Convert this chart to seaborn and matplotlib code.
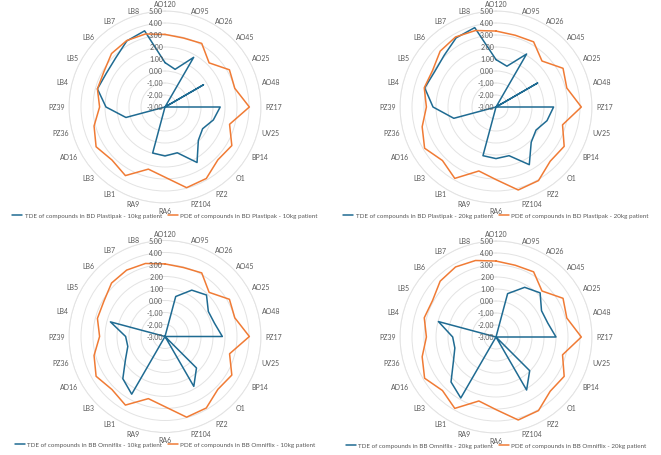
import numpy as np
import pandas as pd
import seaborn as sns
import matplotlib.pyplot as plt
from matplotlib.transforms import offset_copy

# compounds, clockwise from the top
compounds = ['AO120', 'AO95', 'AO26', 'AO45', 'AO25', 'AO48', 'PZ17', 'UV25',
             'BP14', 'O1', 'PZ2', 'PZ104', 'RA6', 'RA9', 'LB1', 'LB3', 'AD16',
             'PZ36', 'PZ39', 'LB4', 'LB5', 'LB6', 'LB7', 'LB8']

# PDE (same for both devices at one weight)
pde_10kg = [3.05, 2.95, 3.12, 2.2, 3.2, 3.02, 4.03, 2.57, 3.43, 3.23, 3.88, 3.96,
            2.85, 2.36, 3.6, 3.25, 3.63, 3.12, 2.45, 2.83, 2.88, 3.3, 3.39, 3.3]
pde_20kg = [3.33, 3.19, 3.27, 2.42, 3.45, 3.11, 4.11, 2.74, 3.56, 3.39, 4.08, 4.16,
            3.05, 2.52, 3.87, 3.31, 3.87, 3.37, 2.8, 3.19, 3.1, 3.58, 3.74, 3.6]

# TDE
tde_plastipak_10kg = [0.7, 0.25, 1.78, -3, 0.7, -3, 1.6, 1.17, 0.62, 0.93, 2.34, 0.95,
                      1.08, 0.97, -3, -3, -3, 0.37, 1.92, 2.83, 2.64, 2.8, 3.36, 3.57]
tde_plastipak_20kg = [0.95, 0.52, 2.1, -3, 1.0, -3, 1.8, 1.4, 0.85, 1.15, 2.55, 1.2,
                      1.3, 1.2, -3, -3, -3, 0.64, 2.25, 3.15, 2.9, 3.1, 3.65, 3.85]
tde_omniflex_10kg = [-3, 0.45, 1.46, 1.89, 1.17, 1.27, 1.78, -3, -3, 0.71, 1.8, -3,
                     -3, -3, 2.55, 1.97, 0.8, 0.21, 0.28, 1.71, -3, -3, -3, -3]
tde_omniflex_20kg = [-3, 0.74, 1.78, 2.2, 1.38, 1.47, 2.0, -3, -3, 0.97, 2.1, -3,
                     -3, -3, 2.87, 2.3, 1.1, 0.55, 0.61, 1.97, -3, -3, -3, -3]

r_ticks = [-3, -2, -1, 0, 1, 2, 3, 4, 5]

blue = '#1f6b92'
orange = '#f07b35'
grey_text = '#595959'
grid_col = '#e3e3e3'

sns.set_theme(style='white')
plt.rcParams['font.family'] = ['Lato', 'DejaVu Sans']

fig = plt.figure(figsize=(6.61, 4.56), dpi=100)

W, H = 661, 456
R = 96
panels = [
    ('BD Plastipak - 10kg patient', tde_plastipak_10kg, pde_10kg, (165, 108)),
    ('BD Plastipak - 20kg patient', tde_plastipak_20kg, pde_20kg, (496, 108)),
    ('BB Omniflix - 10kg patient', tde_omniflex_10kg, pde_10kg, (165, 337.5)),
    ('BB Omniflix - 20kg patient', tde_omniflex_20kg, pde_20kg, (496, 338)),
]

angles = np.arange(len(compounds)) * 2 * np.pi / len(compounds)
theta = np.append(angles, 2 * np.pi)

for name, tde, pde, (cx, cy) in panels:
    rect = [(cx - R) / W, (H - cy - R) / H, 2 * R / W, 2 * R / H]
    ax = fig.add_axes(rect, projection='polar')
    ax.set_theta_zero_location('N')
    ax.set_theta_direction(-1)

    df = pd.DataFrame({
        'theta': np.concatenate([theta, theta]),
        'value': np.concatenate([tde + tde[:1], pde + pde[:1]]),
        'series': ['TDE of compounds in ' + name] * len(theta)
                  + ['PDE of compounds in ' + name] * len(theta),
    })
    sns.lineplot(data=df, x='theta', y='value', hue='series', sort=False,
                 estimator=None, palette=[blue, orange], linewidth=1.1, ax=ax)

    ax.set_ylim(-3, 5)
    ax.set_yticks(r_ticks)
    ax.set_yticklabels([])
    ax.set_xticks(angles)
    ax.set_xticklabels([])
    ax.xaxis.grid(False)
    ax.yaxis.grid(True, color=grid_col, linewidth=0.7)
    ax.spines['polar'].set_color(grid_col)
    ax.spines['polar'].set_linewidth(0.7)
    ax.set_xlabel('')
    ax.set_ylabel('')

    # radial value labels along the top spoke
    tr = offset_copy(ax.transData, fig=fig, x=-2, y=0, units='dots')
    for r in r_ticks:
        ax.text(0, r, f'{r:.2f}', transform=tr, ha='right', va='center',
                fontsize=5, color=grey_text)

    # category labels around the circle
    for a, lab in zip(angles, compounds):
        s, c = np.sin(a), np.cos(a)
        ha = 'left' if s > 0.05 else ('right' if s < -0.05 else 'center')
        if abs(s) <= 0.05:
            va = 'bottom' if c > 0 else 'top'
        else:
            va = 'center'
        ax.text(a, 5.33, lab, ha=ha, va=va, fontsize=5, color=grey_text,
                clip_on=False)

    ax.legend(loc='center', bbox_to_anchor=(0.5, -0.063), ncol=2, frameon=False,
              fontsize=4.5, handlelength=1.6, handletextpad=0.4, columnspacing=0.9,
              labelcolor=grey_text)

fig.savefig('out.png', dpi=100)
